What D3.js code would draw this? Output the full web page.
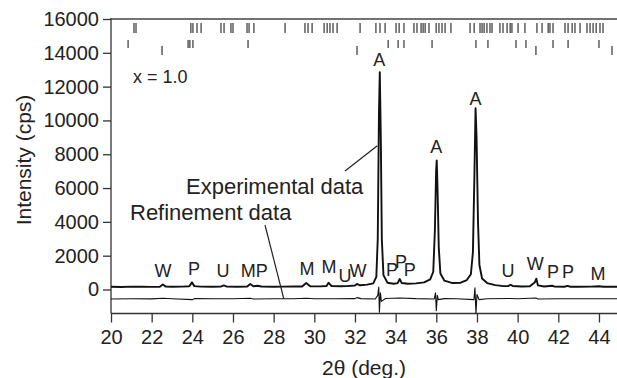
<!DOCTYPE html>
<html>
<head>
<meta charset="utf-8">
<script src="https://cdn.jsdelivr.net/npm/d3@7/dist/d3.min.js"></script>
<style>
  body { margin: 0; background: #fff; }
  svg { display: block; font-family: "Liberation Sans", Arial, sans-serif; }
  .axis path, .axis line { stroke: #333; stroke-width: 1.3; }
  .axis text { font-size: 20px; fill: #222; }
</style>
</head>
<body>
<svg id="chart" width="617" height="378"></svg>
<script>
// 2theta (deg.) / intensity (cps)
const expTheta = [20.0, 20.5, 21.0, 21.5, 22.0, 22.4, 22.55, 22.7, 23.0, 23.5, 23.85, 23.98, 24.1, 24.4, 25.0, 25.4, 25.55, 25.7, 26.2, 26.7, 26.85, 27.0, 27.2, 27.4, 28.0, 28.5, 29.0, 29.4, 29.6, 29.8, 30.3, 30.6, 30.7, 30.85, 31.3, 31.6, 32.0, 32.1, 32.25, 32.6, 32.9, 33.05, 33.12, 33.18, 33.22, 33.27, 33.32, 33.4, 33.6, 33.9, 34.1, 34.2, 34.3, 34.6, 35.0, 35.4, 35.7, 35.85, 35.93, 35.99, 36.02, 36.06, 36.12, 36.2, 36.4, 36.8, 37.2, 37.5, 37.7, 37.8, 37.87, 37.93, 37.98, 38.05, 38.12, 38.25, 38.5, 38.9, 39.3, 39.55, 39.65, 39.75, 40.2, 40.6, 40.85, 40.92, 41.0, 41.3, 41.7, 41.8, 42.3, 42.45, 42.6, 43.0, 43.6, 44.0, 44.2, 45.0];
const expCounts = [160, 150, 170, 160, 155, 165, 300, 170, 160, 170, 190, 420, 200, 170, 160, 170, 240, 170, 165, 175, 330, 190, 220, 175, 165, 170, 175, 180, 380, 190, 185, 210, 400, 200, 195, 200, 240, 330, 250, 290, 360, 750, 3000, 10500, 12860, 9000, 3000, 850, 400, 340, 380, 620, 380, 340, 360, 420, 600, 1050, 3500, 7000, 7640, 6000, 2500, 950, 520, 380, 400, 560, 900, 2200, 6500, 10720, 9000, 4000, 1450, 650, 380, 260, 200, 210, 280, 210, 180, 190, 430, 640, 240, 180, 220, 180, 160, 210, 165, 160, 170, 190, 160, 160];

const diffTheta = [20.0, 21.0, 22.0, 22.55, 23.0, 24.0, 24.1, 25.0, 26.0, 26.85, 27.0, 28.0, 29.0, 29.6, 30.0, 31.0, 32.0, 32.1, 32.3, 33.0, 33.12, 33.17, 33.2, 33.25, 33.3, 33.5, 34.2, 35.0, 35.9, 35.96, 36.0, 36.05, 36.1, 36.4, 37.0, 37.85, 37.9, 37.95, 38.0, 38.1, 38.5, 39.6, 40.0, 40.9, 41.0, 42.0, 43.0, 44.0, 45.0];
const diffCounts = [-560, -550, -555, -520, -550, -600, -540, -550, -545, -520, -560, -550, -545, -520, -550, -545, -540, -480, -540, -560, -350, 150, -1350, -200, -700, -530, -500, -540, -560, -200, -1250, -350, -600, -540, -545, -600, 100, -1420, -300, -600, -545, -530, -545, -500, -560, -545, -550, -545, -550];

// reflection markers, three rows
const markRow1 = [21.13, 21.23, 23.93, 24.03, 24.23, 24.43, 25.41, 25.56, 25.9, 26.0, 26.69, 26.79, 27.03, 28.56, 29.54, 29.69, 29.89, 30.48, 30.63, 30.77, 30.92, 31.12, 32.25, 33.03, 33.23, 33.48, 34.02, 34.17, 34.41, 34.9, 35.05, 35.25, 35.35, 35.45, 35.64, 35.99, 36.13, 36.28, 36.43, 36.72, 37.66, 37.86, 38.15, 38.25, 38.35, 38.49, 38.64, 38.74, 39.13, 39.28, 39.48, 39.63, 39.72, 40.02, 40.36, 40.95, 41.2, 41.5, 41.59, 41.74, 42.33, 42.48, 42.68, 42.82, 43.07, 43.41, 43.56, 43.71, 43.86, 44.05, 44.2];
const markRow2 = [20.84, 23.79, 23.88, 24.03, 26.74, 33.63, 34.12, 34.41, 35.79, 37.95, 38.54, 39.92, 40.41, 41.74, 42.48, 44.0];
const markRow3 = [22.51, 32.1, 40.9, 44.64];

// phase labels: text, 2theta, intensity level of the baseline
const peakText = ['W', 'P', 'U', 'M', 'P', 'M', 'M', 'U', 'W', 'P', 'P', 'P', 'A', 'A', 'A', 'U', 'W', 'P', 'P', 'M'];
const peakTheta = [22.56, 24.08, 25.51, 26.75, 27.42, 29.64, 30.72, 31.51, 32.15, 33.82, 34.26, 34.7, 33.2, 36.0, 37.93, 39.53, 40.86, 41.74, 42.48, 43.95];
const peakLevel = [711, 830, 711, 711, 711, 830, 948, 415, 711, 770, 1244, 770, 13215, 8060, 10904, 711, 1126, 652, 652, 533];

const xTicks = d3.range(20, 45, 2);
const yTicks = d3.range(0, 16001, 2000);

const svg = d3.select('#chart');
const margin = { top: 19, left: 111, bottom: 313.5 };

const x = d3.scaleLinear().domain([20, 45]).range([margin.left, 619.3]);
const y = d3.scaleLinear().domain([-1420, 16000]).range([margin.bottom, margin.top]);

// axes
svg.append('g')
  .attr('class', 'axis')
  .attr('transform', `translate(0,${margin.bottom})`)
  .call(d3.axisBottom(x).tickValues(xTicks).tickSize(9).tickSizeOuter(0).tickPadding(7).tickFormat(d3.format('d')))
  .call(g => g.select('.domain').attr('d', `M${margin.left},0H617`));

svg.append('g')
  .attr('class', 'axis')
  .attr('transform', `translate(${margin.left},0)`)
  .call(d3.axisLeft(y).tickValues(yTicks).tickSize(8).tickSizeOuter(0).tickPadding(4).tickFormat(d3.format('d')))
  .call(g => g.select('.domain').attr('d', `M0,${margin.top - 1}V${margin.bottom}`));

// top frame
svg.append('line')
  .attr('x1', margin.left).attr('x2', 617)
  .attr('y1', margin.top).attr('y2', margin.top)
  .attr('stroke', '#444').attr('stroke-width', 1.5);

// reflection markers
function drawMarks(list, y1, y2, w) {
  svg.append('g').selectAll('line')
    .data(list)
    .enter()
    .append('line')
    .attr('x1', d => x(d)).attr('x2', d => x(d))
    .attr('y1', y1).attr('y2', y2)
    .attr('stroke', '#222')
    .attr('stroke-width', w);
}
drawMarks(markRow1, 23, 33, 1.1);
drawMarks(markRow2, 40, 48, 1.1);
drawMarks(markRow3, 46, 55, 1.1);

// curves
const line = d3.line().x(d => x(d[0])).y(d => y(d[1]));
const expData = expTheta.map((t, i) => [t, expCounts[i]]);
const diffData = diffTheta.map((t, i) => [t, diffCounts[i]]);

svg.append('path')
  .datum(diffData)
  .attr('d', line)
  .attr('fill', 'none')
  .attr('stroke', '#111')
  .attr('stroke-width', 1.1)
  .attr('stroke-linejoin', 'round');

svg.append('path')
  .datum(expData)
  .attr('d', line)
  .attr('fill', 'none')
  .attr('stroke', '#111')
  .attr('stroke-width', 1.9)
  .attr('stroke-linejoin', 'round');

// phase letters
svg.append('g').selectAll('text')
  .data(peakText)
  .enter()
  .append('text')
  .attr('x', (d, i) => x(peakTheta[i]))
  .attr('y', (d, i) => y(peakLevel[i]))
  .attr('text-anchor', 'middle')
  .style('font-size', '18px')
  .style('fill', '#222')
  .text(d => d);

// annotations
svg.append('text')
  .attr('x', 133).attr('y', 83)
  .style('font-size', '18px').style('fill', '#222')
  .text('x = 1.0');

svg.append('text')
  .attr('x', 186).attr('y', 194)
  .style('font-size', '22px').style('fill', '#222')
  .text('Experimental data');

svg.append('line')
  .attr('x1', 345).attr('y1', 171)
  .attr('x2', x(33.1)).attr('y2', y(8500))
  .attr('stroke', '#222').attr('stroke-width', 1.2);

svg.append('text')
  .attr('x', 130).attr('y', 220)
  .style('font-size', '22px').style('fill', '#222')
  .text('Refinement data');

svg.append('line')
  .attr('x1', 265).attr('y1', 225)
  .attr('x2', x(28.5)).attr('y2', y(-560))
  .attr('stroke', '#222').attr('stroke-width', 1.2);

// axis titles
svg.append('text')
  .attr('transform', 'translate(31,160) rotate(-90)')
  .attr('text-anchor', 'middle')
  .style('font-size', '21px').style('fill', '#222')
  .text('Intensity (cps)');

svg.append('text')
  .attr('x', 364).attr('y', 375)
  .attr('text-anchor', 'middle')
  .style('font-size', '21px').style('fill', '#222')
  .text('2θ (deg.)');
</script>
</body>
</html>
